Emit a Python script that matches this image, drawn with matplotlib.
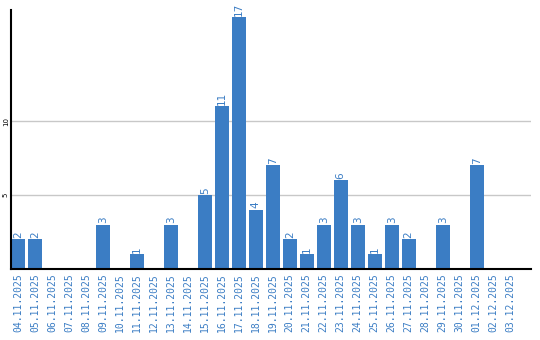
import matplotlib
matplotlib.use('Agg')
import matplotlib.pyplot as plt

# daily counts
dates = ['04.11.2025', '05.11.2025', '06.11.2025', '07.11.2025', '08.11.2025',
         '09.11.2025', '10.11.2025', '11.11.2025', '12.11.2025', '13.11.2025',
         '14.11.2025', '15.11.2025', '16.11.2025', '17.11.2025', '18.11.2025',
         '19.11.2025', '20.11.2025', '21.11.2025', '22.11.2025', '23.11.2025',
         '24.11.2025', '25.11.2025', '26.11.2025', '27.11.2025', '28.11.2025',
         '29.11.2025', '30.11.2025', '01.12.2025', '02.12.2025', '03.12.2025']
counts = [2, 2, 0, 0, 0, 3, 0, 1, 0, 3,
          0, 5, 11, 17, 4, 7, 2, 1, 3, 6,
          3, 1, 3, 2, 0, 3, 0, 7, 0, 0]
y_ticks = [5, 10]

blue = '#3b7dc4'

fig = plt.figure(figsize=(5.4, 3.4), dpi=100)
ax = fig.add_axes([11 / 540, 71 / 340, 520 / 540, 259 / 340])

x = list(range(len(dates)))
ax.bar(x, counts, width=0.82, color=blue, zorder=2)

for xi, v in zip(x, counts):
    if v > 0:
        ax.text(xi, v + 0.1, str(v), rotation=90, ha='center', va='bottom',
                color=blue, fontsize=7.5, family='DejaVu Sans')

ax.set_xlim(-0.41, 30.2)
ax.set_ylim(0, 17.5)
ax.set_xticks(x)
ax.set_xticklabels(dates, rotation=90, color=blue, fontsize=7,
                   family='DejaVu Sans Mono')
ax.set_yticks(y_ticks)
ax.set_yticklabels([str(t) for t in y_ticks], rotation=90, fontsize=5,
                   va='center')
ax.tick_params(axis='both', length=0, pad=3)
ax.tick_params(axis='y', pad=1.5)
ax.grid(axis='y', color='#c8c8c8', linewidth=1, zorder=0)

for s in ['top', 'right']:
    ax.spines[s].set_visible(False)
ax.spines['left'].set_linewidth(1.5)
ax.spines['bottom'].set_linewidth(1.5)

fig.savefig('out.png', dpi=100)
